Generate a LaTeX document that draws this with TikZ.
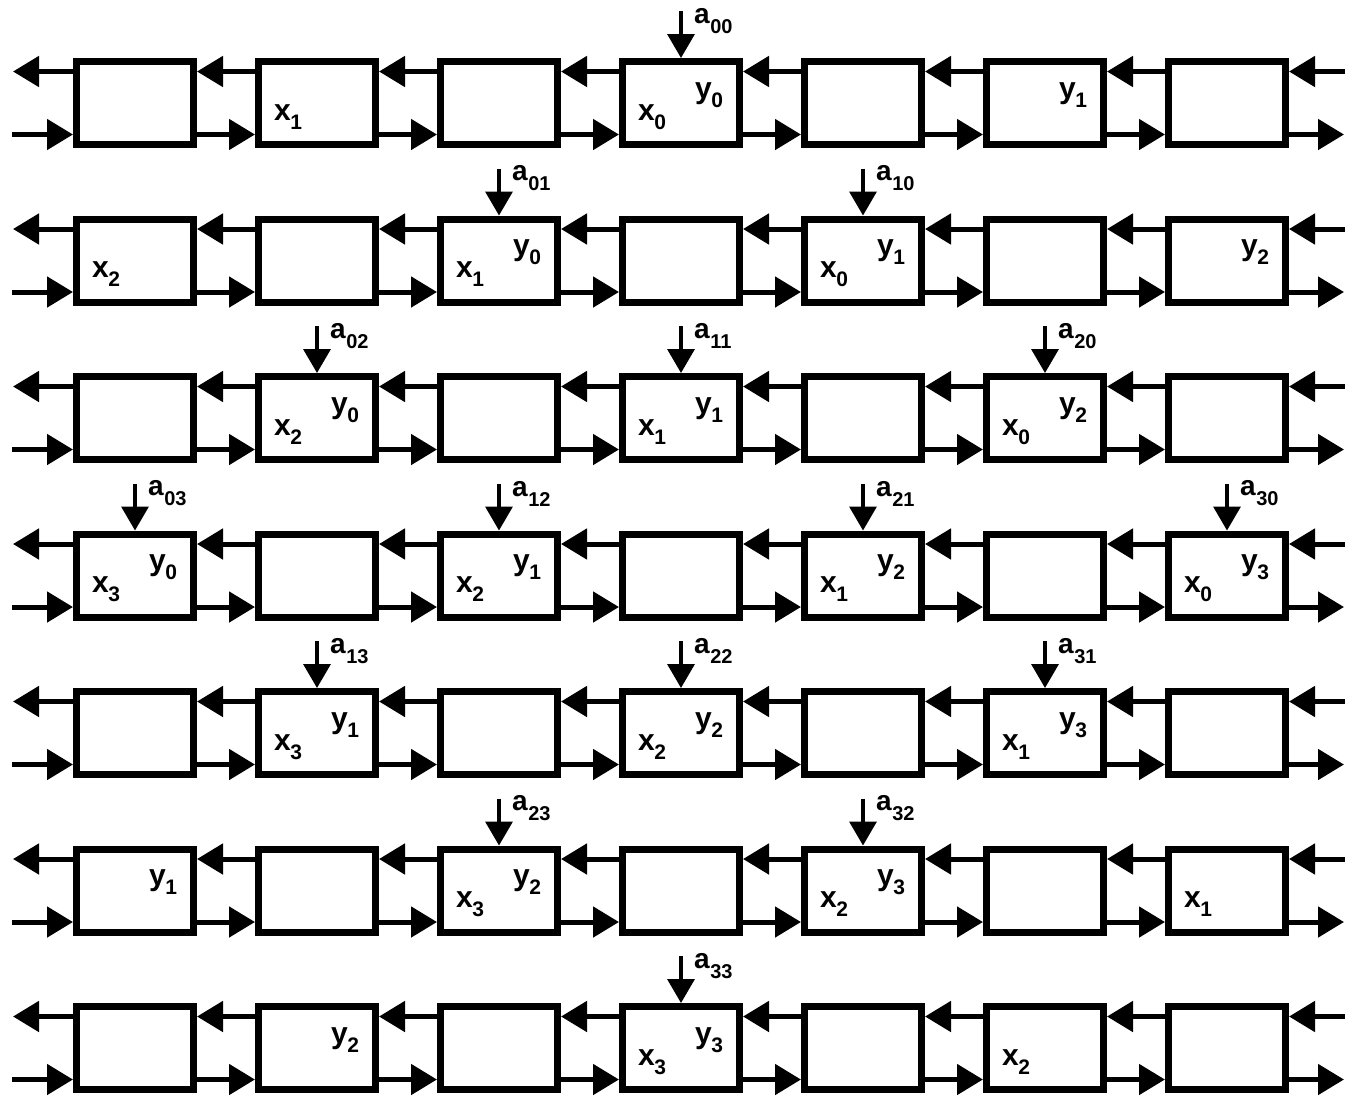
\documentclass[tikz,border=0pt]{standalone}
\usepackage{fontspec}
\setmainfont{Liberation Sans}
\usetikzlibrary{arrows.meta}
\newcommand\sublab[2]{#1\kern-0.5pt\raisebox{-9pt}{\fontsize{21}{21}\selectfont #2}}
\newcommand\alab[1]{a\kern0.5pt\raisebox{-10pt}{\fontsize{20}{20}\selectfont #1}}
\begin{document}
\begin{tikzpicture}[x=1pt,y=-1pt,
  blk/.style={draw,line width=7pt,minimum width=117pt,minimum height=83pt,inner sep=0pt},
  link/.style={line width=5pt,-{Triangle[length=26pt,width=30pt]}},
  feed/.style={line width=3.5pt,-{Triangle[length=24pt,width=27pt]}},
  lab/.style={inner sep=0pt,font=\fontsize{30}{30}\selectfont\bfseries},
  alabel/.style={inner sep=0pt,anchor=west,font=\fontsize{28}{28}\selectfont\bfseries}]
\useasboundingbox (0,0) rectangle (1345,1096);
% boxes
\foreach \r in {1,...,7}{
  \foreach \c in {1,...,7}{
    \node[blk] (b-\r-\c) at ({135+182*(\c-1)},{103+157.5*(\r-1)}) {};
  }
  % free ends
  \coordinate (lo-\r) at (13,{103+157.5*(\r-1)-31.5});
  \coordinate (li-\r) at (12,{103+157.5*(\r-1)+31.5});
  \coordinate (ri-\r) at (1346,{103+157.5*(\r-1)-31.5});
  \coordinate (ro-\r) at (1344,{103+157.5*(\r-1)+31.5});
  \draw[link] ([yshift=31.5pt]b-\r-1.west) -- (lo-\r);
  \draw[link] (li-\r) -- ([yshift=-31.5pt]b-\r-1.west);
  \draw[link] (ri-\r) -- ([yshift=31.5pt]b-\r-7.east);
  \draw[link] ([yshift=-31.5pt]b-\r-7.east) -- (ro-\r);
  \foreach \c [evaluate=\c as \n using {int(\c+1)}] in {1,...,6}{
    \draw[link] ([yshift=31.5pt]b-\r-\n.west) -- ([yshift=31.5pt]b-\r-\c.east);
    \draw[link] ([yshift=-31.5pt]b-\r-\c.east) -- ([yshift=-31.5pt]b-\r-\n.west);
  }
}
% x labels
\foreach \r/\c/\i in {1/2/1,1/4/0,2/1/2,2/3/1,2/5/0,3/2/2,3/4/1,3/6/0,4/1/3,4/3/2,4/5/1,4/7/0,5/2/3,5/4/2,5/6/1,6/3/3,6/5/2,6/7/1,7/4/3,7/6/2}
  \node[lab] (x-\r-\c) at ([xshift=-29pt,yshift=-14pt]b-\r-\c.center) {\sublab{x}{\i}};
% y labels
\foreach \r/\c/\i in {1/4/0,1/6/1,2/3/0,2/5/1,2/7/2,3/2/0,3/4/1,3/6/2,4/1/0,4/3/1,4/5/2,4/7/3,5/2/1,5/4/2,5/6/3,6/1/1,6/3/2,6/5/3,7/2/2,7/4/3}
  \node[lab] (y-\r-\c) at ([xshift=28pt,yshift=8pt]b-\r-\c.center) {\sublab{y}{\i}};
% inputs a_ij
\foreach \r/\c/\ij in {1/4/00,2/3/01,2/5/10,3/2/02,3/4/11,3/6/20,4/1/03,4/3/12,4/5/21,4/7/30,5/2/13,5/4/22,5/6/31,6/3/23,6/5/32,7/4/33}{
  \coordinate (f-\r-\c) at ([yshift=47pt]b-\r-\c.north);
  \draw[feed] (f-\r-\c) -- (b-\r-\c.north);
  \node[alabel] (a-\r-\c) at ([xshift=13pt,yshift=37pt]b-\r-\c.north) {\alab{\ij}};
}
\end{tikzpicture}
\end{document}
